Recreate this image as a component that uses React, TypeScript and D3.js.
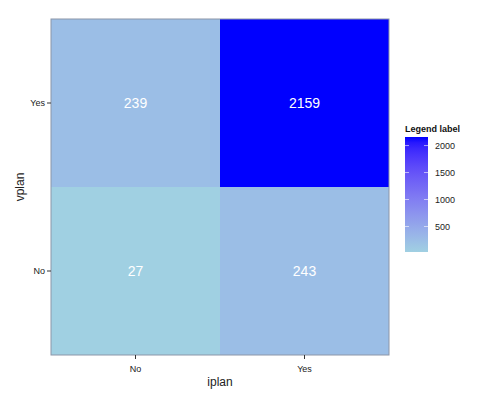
import React from "react";
import * as d3 from "d3";

const xCats = ["No", "Yes"];
const yCats = ["No", "Yes"];
const cells = [
  { x: "No", y: "Yes", v: 239 },
  { x: "Yes", y: "Yes", v: 2159 },
  { x: "No", y: "No", v: 27 },
  { x: "Yes", y: "No", v: 243 },
];
const legendTicks = [500, 1000, 1500, 2000];

const W = 500, H = 400;
const L = 51, R = 389, T = 19, B = 355;
const font = "Liberation Sans, Arial, Helvetica, sans-serif";

export default function App() {
  const x = d3.scaleBand().domain(xCats).range([L, R]);
  const y = d3.scaleBand().domain(yCats).range([B, T]);
  const ext = d3.extent(cells, (d) => d.v) as [number, number];
  const color = d3.scaleLinear<string>().domain(ext).range(["#a0d0e2", "#0000ff"]).interpolate(d3.interpolateLab);

  const lx = 405, lw = 23, lTop = 137, lBot = 252;
  const ly = d3.scaleLinear().domain(ext).range([lBot, lTop]);
  const stops = d3.range(0, 1.0001, 0.05);

  return (
    <svg width={W} height={H} style={{ position: "absolute", left: 0, top: 0, background: "#fff" }}>
      <defs>
        <linearGradient id="lg" x1="0" y1="1" x2="0" y2="0">
          {stops.map((s) => (
            <stop key={s} offset={s} stopColor={color(ext[0] + s * (ext[1] - ext[0]))} />
          ))}
        </linearGradient>
      </defs>
      {cells.map((c) => (
        <g key={c.x + c.y}>
          <rect x={x(c.x)} y={y(c.y)} width={x.bandwidth()} height={y.bandwidth()} fill={color(c.v)} />
          <text
            x={x(c.x)! + x.bandwidth() / 2}
            y={y(c.y)! + y.bandwidth() / 2}
            dy="0.35em"
            textAnchor="middle"
            fill="#fff"
            fontFamily={font}
            fontSize={14}
          >
            {c.v}
          </text>
        </g>
      ))}
      <rect x={L} y={T} width={R - L} height={B - T} fill="none" stroke="#8c96a8" strokeWidth={1} />
      {xCats.map((c) => {
        const cx = x(c)! + x.bandwidth() / 2;
        return (
          <g key={"x" + c}>
            <line x1={cx} x2={cx} y1={B} y2={B + 4} stroke="#333" />
            <text x={cx} y={B + 17} textAnchor="middle" fontFamily={font} fontSize={9} fill="#222">{c}</text>
          </g>
        );
      })}
      {yCats.map((c) => {
        const cy = y(c)! + y.bandwidth() / 2;
        return (
          <g key={"y" + c}>
            <line x1={L - 4} x2={L} y1={cy} y2={cy} stroke="#333" />
            <text x={L - 6} y={cy} dy="0.35em" textAnchor="end" fontFamily={font} fontSize={9} fill="#222">{c}</text>
          </g>
        );
      })}
      <text x={(L + R) / 2} y={386} textAnchor="middle" fontFamily={font} fontSize={12} fill="#222">iplan</text>
      <text transform={`translate(24,${(T + B) / 2}) rotate(-90)`} textAnchor="middle" fontFamily={font} fontSize={12} fill="#222">vplan</text>
      <text x={lx} y={132} fontFamily={font} fontSize={9} fontWeight="bold" fill="#111">Legend label</text>
      <rect x={lx} y={lTop} width={lw} height={lBot - lTop} fill="url(#lg)" />
      {legendTicks.map((t) => (
        <g key={t}>
          <line x1={lx} x2={lx + 4} y1={ly(t)} y2={ly(t)} stroke="#fff" strokeOpacity={0.6} />
          <line x1={lx + lw - 4} x2={lx + lw} y1={ly(t)} y2={ly(t)} stroke="#fff" strokeOpacity={0.6} />
          <text x={lx + lw + 7} y={ly(t)} dy="0.35em" fontFamily={font} fontSize={9} fill="#222">{t}</text>
        </g>
      ))}
    </svg>
  );
}
